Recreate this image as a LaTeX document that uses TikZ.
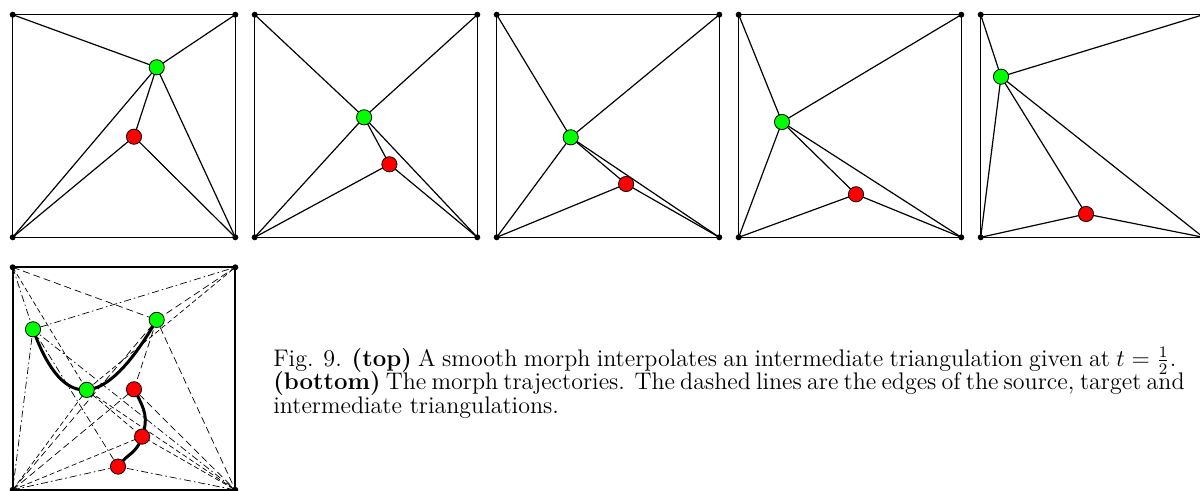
\documentclass[tikz,border=0pt]{standalone}
\usetikzlibrary{calc}
\tikzset{
  edge/.style={line width=0.6pt, line join=round},
  src/.style={line width=0.35pt, dash pattern=on 3.5pt off 2pt},
  mid/.style={line width=0.35pt, dash pattern=on 2.5pt off 1.5pt},
  tgt/.style={line width=0.35pt, dash pattern=on 3.5pt off 1.5pt on 0.8pt off 1.5pt},
  frame/.style={line width=1pt},
  traj/.style={line width=1.5pt, line cap=round},
  cornerdot/.style={circle, fill=black, inner sep=0pt, minimum size=3pt},
  gpt/.style={circle, draw=black, line width=0.4pt, fill=green, inner sep=0pt, minimum size=7.6pt},
  rpt/.style={circle, draw=black, line width=0.4pt, fill=red, inner sep=0pt, minimum size=7.6pt},
  captext/.style={anchor=base west, inner sep=0pt, font=\fontsize{12}{13}\selectfont},
}
\newcommand\tripanel[6]{%
  \begin{scope}[shift={(#2,14.7)}]
    \coordinate (#1tl) at (0,0);
    \coordinate (#1tr) at (222.6,0);
    \coordinate (#1bl) at (0,222.6);
    \coordinate (#1br) at (222.6,222.6);
    \coordinate (#1g) at (#3,#4);
    \coordinate (#1r) at (#5,#6);
    \draw[edge] (#1tl) -- (#1tr) -- (#1br) -- (#1bl) -- cycle;
    \draw[edge] (#1tl) -- (#1g) -- (#1tr);
    \draw[edge] (#1bl) -- (#1g) -- (#1br);
    \draw[edge] (#1g) -- (#1r);
    \draw[edge] (#1bl) -- (#1r) -- (#1br);
    \node[cornerdot] (#1ntl) at (#1tl) {};
    \node[cornerdot] (#1ntr) at (#1tr) {};
    \node[cornerdot] (#1nbl) at (#1bl) {};
    \node[cornerdot] (#1nbr) at (#1br) {};
    \node[gpt] (#1ng) at (#1g) {};
    \node[rpt] (#1nr) at (#1r) {};
  \end{scope}}
\newcommand\dashtri[4]{% prefix of corners, g, r, style
  \draw[#4] (#1tl) -- (#2) -- (#1tr);
  \draw[#4] (#1bl) -- (#2) -- (#1br);
  \draw[#4] (#2) -- (#3);
  \draw[#4] (#1bl) -- (#3) -- (#1br);}
\begin{document}
\begin{tikzpicture}[x=0.5pt,y=-0.5pt]
\useasboundingbox (0,0) rectangle (1200,491);
% top row
\tripanel{a}{12.7}{144}{52.6}{121.3}{122}
\tripanel{b}{254.7}{109.4}{102.6}{134.7}{149.6}
\tripanel{c}{496.7}{74}{122.6}{129.4}{169.3}
\tripanel{d}{738.7}{43.3}{107.3}{117.3}{179.6}
\tripanel{e}{980.7}{20.3}{62}{105.3}{199.3}
% bottom panel
\begin{scope}[shift={(12.7,267.3)}]
  \coordinate (ztl) at (0,0);
  \coordinate (ztr) at (222.6,0);
  \coordinate (zbl) at (0,222.6);
  \coordinate (zbr) at (222.6,222.6);
  \coordinate (sg) at (144,52.6);
  \coordinate (sr) at (121.3,122);
  \coordinate (ig) at (74,122.6);
  \coordinate (ir) at (129.4,169.3);
  \coordinate (tg) at (20.3,62);
  \coordinate (tr) at (105.3,199.3);
  \dashtri{z}{sg}{sr}{src}
  \dashtri{z}{ig}{ir}{mid}
  \dashtri{z}{tg}{tr}{tgt}
  \draw[frame] (ztl) -- (ztr) -- (zbr) -- (zbl) -- cycle;
  % green trajectory: quadratic through the intermediate position at t=1/2
  \coordinate (cg) at ($2*(ig)-0.5*(sg)-0.5*(tg)$);
  \draw[traj] (sg) .. controls ($(sg)!0.6667!(cg)$) and ($(tg)!0.6667!(cg)$) .. (tg);
  % red trajectory
  \draw[traj] (sr) .. controls +(12,22) and +(6,-18) .. (ir)
                   .. controls +(-6,18) and +(10,-14) .. (tr);
  \node[cornerdot] (zntl) at (ztl) {};
  \node[cornerdot] (zntr) at (ztr) {};
  \node[cornerdot] (znbl) at (zbl) {};
  \node[cornerdot] (znbr) at (zbr) {};
  \node[gpt] (nsg) at (sg) {};
  \node[gpt] (nig) at (ig) {};
  \node[gpt] (ntg) at (tg) {};
  \node[rpt] (nsr) at (sr) {};
  \node[rpt] (nir) at (ir) {};
  \node[rpt] (ntr) at (tr) {};
\end{scope}
% caption
\node[captext] (cap1) at (273,366.5) {\makebox[451.5pt][s]{Fig. 9. \textbf{(top)} A smooth morph interpolates an intermediate triangulation given at $t=\frac{1}{2}$.}};
\node[captext] (cap2) at (273,390) {\makebox[451.5pt][s]{\textbf{(bottom)} The morph trajectories. The dashed lines are the edges of the source, target and}};
\node[captext] (cap3) at (273,413.5) {intermediate triangulations.};
\end{tikzpicture}
\end{document}
